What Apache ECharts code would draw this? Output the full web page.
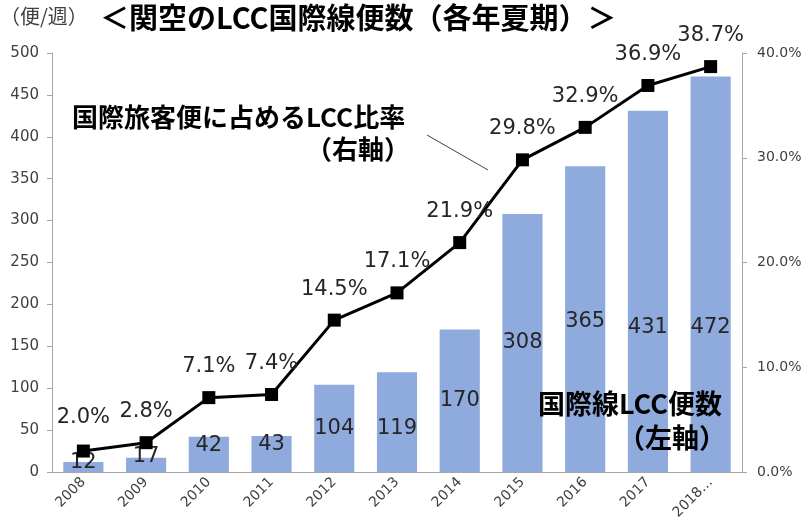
<!DOCTYPE html>
<html>
<head>
<meta charset="utf-8">
<script src="https://cdn.jsdelivr.net/npm/echarts@6/dist/echarts.min.js"></script>
<style>
  html, body { margin: 0; padding: 0; background: #fff; }
  #main { width: 811px; height: 524px; }
</style>
</head>
<body>
<div id="main"></div>
<script>
// data
var years = ['2008', '2009', '2010', '2011', '2012', '2013', '2014', '2015', '2016', '2017', '2018…'];
var lccFlights = [12, 17, 42, 43, 104, 119, 170, 308, 365, 431, 472];
var lccShare = [2.0, 2.8, 7.1, 7.4, 14.5, 17.1, 21.9, 29.8, 32.9, 36.9, 38.7];

var numFont = 'DejaVu Sans';
var jpFont = '"Noto Sans CJK JP", sans-serif';
var axisGrey = '#a6a6a6';

// bar labels sit near the middle, a few were nudged by hand in the original
var barLabelShift = { 0: -4, 1: -8, 2: -9, 3: -9, 5: 6, 8: 2, 9: 36, 10: 53 };

var myChart = echarts.init(document.getElementById('main'));

myChart.setOption({
  backgroundColor: '#fff',
  animation: false,
  grid: { left: 52, right: 69, top: 53, bottom: 52 },
  xAxis: {
    type: 'category',
    data: years,
    axisLine: { lineStyle: { color: axisGrey } },
    axisTick: { length: 5, lineStyle: { color: axisGrey } },
    axisLabel: {
      rotate: 45, interval: 0, color: '#404040',
      fontFamily: numFont, fontSize: 14, margin: 8
    }
  },
  yAxis: [{
    type: 'value',
    min: 0, max: 500, interval: 50,
    splitLine: { show: false },
    axisLine: { show: true, lineStyle: { color: axisGrey } },
    axisTick: { show: true, length: 5, lineStyle: { color: axisGrey } },
    axisLabel: { color: '#404040', fontFamily: numFont, fontSize: 15, margin: 13 }
  }, {
    type: 'value',
    min: 0, max: 40, interval: 10,
    position: 'right',
    splitLine: { show: false },
    axisLine: { show: true, lineStyle: { color: axisGrey } },
    axisTick: { show: true, length: 5, lineStyle: { color: axisGrey } },
    axisLabel: {
      color: '#404040', fontFamily: numFont, fontSize: 14, margin: 15,
      formatter: function (v) { return v.toFixed(1) + '%'; }
    }
  }],
  series: [{
    name: '国際線LCC便数',
    type: 'bar',
    barWidth: '64%',
    itemStyle: { color: '#8faadc' },
    data: lccFlights.map(function (v, i) {
      return {
        value: v,
        label: { offset: [0, barLabelShift[i] || 0] }
      };
    }),
    label: {
      show: true, position: 'inside',
      color: '#262626', fontFamily: numFont, fontSize: 21
    },
    z: 1
  }, {
    name: '国際旅客便に占めるLCC比率',
    type: 'line',
    yAxisIndex: 1,
    symbol: 'rect',
    symbolSize: 13,
    lineStyle: { color: '#000', width: 3 },
    itemStyle: { color: '#000' },
    data: lccShare.map(function (v, i) {
      return {
        value: v,
        label: { offset: i === 0 ? [0, -3] : [0, 0] }
      };
    }),
    label: {
      show: true, position: 'top', distance: 14,
      color: '#262626', fontFamily: numFont, fontSize: 21,
      formatter: function (p) { return p.value.toFixed(1) + '%'; }
    },
    z: 3
  }],
  graphic: [
    { type: 'text', left: 0, top: 6, z: 100,
      style: { text: '（便/週）', font: '20px ' + jpFont, fill: '#404040' } },
    { type: 'text', left: 100, top: 3, z: 100,
      style: { text: '＜関空のLCC国際線便数（各年夏期）＞', font: 'bold 29px ' + jpFont, fill: '#000' } },
    { type: 'text', left: 72, top: 104, z: 100,
      style: { text: '国際旅客便に占めるLCC比率', font: 'bold 26px ' + jpFont, fill: '#000' } },
    { type: 'text', left: 306, top: 136, z: 100,
      style: { text: '（右軸）', font: 'bold 26px ' + jpFont, fill: '#000' } },
    { type: 'line', shape: { x1: 427, y1: 135, x2: 488, y2: 170 }, z: 100,
      style: { stroke: '#404040', lineWidth: 1 } },
    { type: 'text', left: 538, top: 390, z: 100,
      style: { text: '国際線LCC便数', font: 'bold 27px ' + jpFont, fill: '#000' } },
    { type: 'text', left: 618, top: 424, z: 100,
      style: { text: '（左軸）', font: 'bold 27px ' + jpFont, fill: '#000' } }
  ]
});
</script>
</body>
</html>
